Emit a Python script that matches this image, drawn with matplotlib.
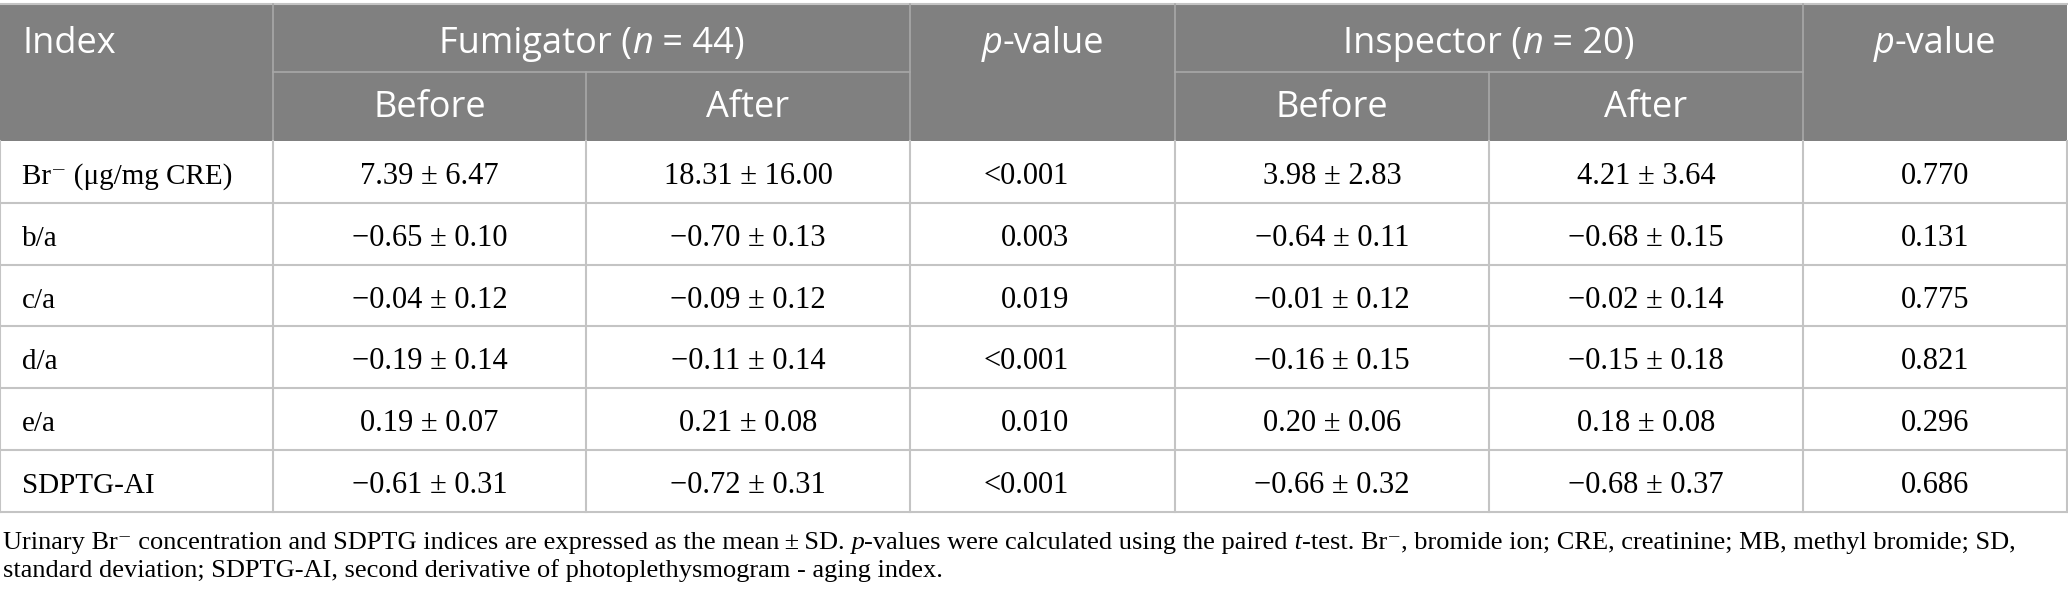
import matplotlib
matplotlib.use("Agg")
import matplotlib.pyplot as plt
from matplotlib.patches import Rectangle

# table content
row_labels = ["Br\u207b (\u03bcg/mg CRE)", "b/a", "c/a", "d/a", "e/a", "SDPTG-AI"]
fum_before = ["7.39 \u00b1 6.47", "\u22120.65 \u00b1 0.10", "\u22120.04 \u00b1 0.12",
              "\u22120.19 \u00b1 0.14", "0.19 \u00b1 0.07", "\u22120.61 \u00b1 0.31"]
fum_after = ["18.31 \u00b1 16.00", "\u22120.70 \u00b1 0.13", "\u22120.09 \u00b1 0.12",
             "\u22120.11 \u00b1 0.14", "0.21 \u00b1 0.08", "\u22120.72 \u00b1 0.31"]
fum_p = ["<0.001", "0.003", "0.019", "<0.001", "0.010", "<0.001"]
ins_before = ["3.98 \u00b1 2.83", "\u22120.64 \u00b1 0.11", "\u22120.01 \u00b1 0.12",
              "\u22120.16 \u00b1 0.15", "0.20 \u00b1 0.06", "\u22120.66 \u00b1 0.32"]
ins_after = ["4.21 \u00b1 3.64", "\u22120.68 \u00b1 0.15", "\u22120.02 \u00b1 0.14",
             "\u22120.15 \u00b1 0.18", "0.18 \u00b1 0.08", "\u22120.68 \u00b1 0.37"]
ins_p = ["0.770", "0.131", "0.775", "0.821", "0.296", "0.686"]

# caption as (text, italic) runs
caption_1 = [("Urinary Br\u207b concentration and SDPTG indices are expressed as the mean\u2009\u00b1\u2009SD.", False),
             (" p", True),
             ("-values were calculated using the paired", False),
             (" t", True),
             ("-test. Br\u207b, bromide ion; CRE, creatinine; MB, methyl bromide; SD,", False)]
caption_2 = [("standard deviation; SDPTG-AI, second derivative of photoplethysmogram - aging index.", False)]

W, H = 2068, 602
col_x = [0, 273, 586, 910, 1175, 1489, 1803, 2067]
head_top, head_mid, head_bot = 4, 72, 141
row_h = 61.8

head_col = "#808080"
grid_col = "#c4c4c4"
head_line = "#a8a8a8"
sans = ["Open Sans", "DejaVu Sans"]
serif = ["Liberation Serif", "DejaVu Serif"]

fig = plt.figure(figsize=(W / 100, H / 100), dpi=100)
ax = fig.add_axes([0, 0, 1, 1])
ax.set_xlim(0, W)
ax.set_ylim(H, 0)
ax.axis("off")
renderer = fig.canvas.get_renderer()


def runs(x, y, parts, ha="left", size=19, family=serif, color="black"):
    # draw mixed roman/italic text pieces one after another
    texts = []
    for s, it in parts:
        t = ax.text(0, y, s, fontsize=size, family=family, color=color,
                    style="italic" if it else "normal", va="baseline", ha="left")
        texts.append(t)
    widths = [t.get_window_extent(renderer).width for t in texts]
    total = sum(widths)
    if ha == "center":
        x0 = x - total / 2
    elif ha == "right":
        x0 = x - total
    else:
        x0 = x
    for t, w in zip(texts, widths):
        t.set_x(x0)
        x0 += w


# header background
ax.add_patch(Rectangle((0, head_top), col_x[-1], head_bot - head_top, color=head_col, lw=0))
ax.plot([0, col_x[-1]], [head_top, head_top], color=grid_col, lw=1.5)
ax.plot([col_x[1], col_x[3]], [head_mid, head_mid], color=head_line, lw=1.2)
ax.plot([col_x[4], col_x[6]], [head_mid, head_mid], color=head_line, lw=1.2)
for i in [1, 3, 4, 6]:
    ax.plot([col_x[i], col_x[i]], [head_top, head_bot], color=head_line, lw=1.2)
for i in [2, 5]:
    ax.plot([col_x[i], col_x[i]], [head_mid, head_bot], color=head_line, lw=1.2)

# header text
hy1 = 53
hy2 = 117
hs = 26
ax.text(22, hy1, "Index", fontsize=hs, family=sans, color="white", va="baseline")
runs((col_x[1] + col_x[3]) / 2, hy1, [("Fumigator (", False), ("n", True), (" = 44)", False)],
     ha="center", size=hs, family=sans, color="white")
runs((col_x[3] + col_x[4]) / 2, hy1, [("p", True), ("-value", False)],
     ha="center", size=hs, family=sans, color="white")
runs((col_x[4] + col_x[6]) / 2, hy1, [("Inspector (", False), ("n", True), (" = 20)", False)],
     ha="center", size=hs, family=sans, color="white")
runs((col_x[6] + col_x[7]) / 2, hy1, [("p", True), ("-value", False)],
     ha="center", size=hs, family=sans, color="white")
for i in [1, 4]:
    ax.text((col_x[i] + col_x[i + 1]) / 2, hy2, "Before", fontsize=hs, family=sans,
            color="white", va="baseline", ha="center")
    ax.text((col_x[i + 1] + col_x[i + 2]) / 2, hy2, "After", fontsize=hs, family=sans,
            color="white", va="baseline", ha="center")

# body
n = len(row_labels)
ls = 21   # row labels
vs = 22   # value cells
for r in range(n):
    top = head_bot + r * row_h
    yb = top + 43
    ax.plot([0, col_x[-1]], [top + row_h, top + row_h], color=grid_col, lw=1.5)
    ax.text(22, yb, row_labels[r], fontsize=ls, family=serif, va="baseline")
    cols = [fum_before, fum_after, None, ins_before, ins_after, ins_p]
    for j, vals in enumerate(cols):
        if vals is None:
            continue
        ax.text((col_x[j + 1] + col_x[j + 2]) / 2, yb, vals[r], fontsize=vs,
                family=serif, va="baseline", ha="center")
    ax.text(1069, yb, fum_p[r], fontsize=vs, family=serif, va="baseline", ha="right")

body_bot = head_bot + n * row_h
for x in col_x:
    ax.plot([x, x], [head_bot, body_bot], color=grid_col, lw=1.5)

# caption
runs(3, 549, caption_1, size=19)
runs(3, 577, caption_2, size=19)

fig.savefig("out.png", dpi=100)
